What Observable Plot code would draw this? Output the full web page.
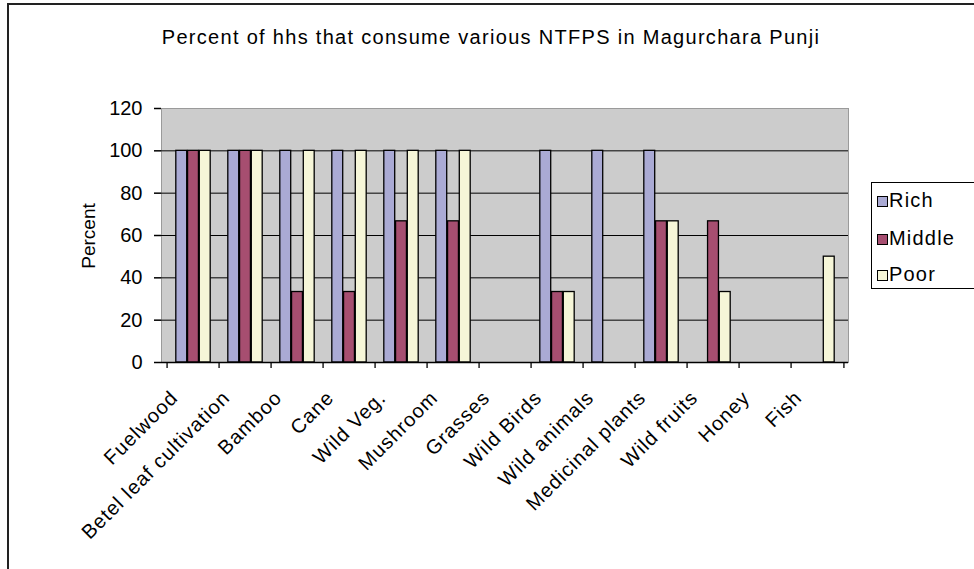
<!DOCTYPE html>
<html><head><meta charset="utf-8">
<script src="https://cdn.jsdelivr.net/npm/d3@7"></script>
<script src="https://cdn.jsdelivr.net/npm/@observablehq/plot@0.6"></script>
<style>
body{margin:0;background:#fff;font-family:"Liberation Sans",Arial,sans-serif;}
#wrap{position:relative;width:974px;height:569px;overflow:hidden;background:#fff}
#border{position:absolute;left:7px;top:3px;width:1000px;height:600px;border:2px solid #222;box-sizing:border-box}
#title{position:absolute;left:4px;width:974px;top:25px;text-align:center;font-size:20px;line-height:24px;letter-spacing:1.3px;white-space:nowrap}
#ylab{position:absolute;left:89px;top:236px;transform:translate(-50%,-50%) rotate(-90deg);font-size:19px;white-space:nowrap}
#legend{position:absolute;left:871px;top:182px;width:120px;height:107px;border:1px solid #000;box-sizing:border-box;background:#fff}
.item{position:absolute;left:5px;height:22px;font-size:20px;line-height:22px;white-space:nowrap;letter-spacing:1.2px}
.sw{display:inline-block;width:9px;height:9px;border:1px solid #000;margin-right:1px;vertical-align:0px}
#chart{position:absolute;left:0;top:0}
g[aria-label="x-axis tick label"] text{letter-spacing:1px}
</style></head>
<body>
<div id="wrap">
<div id="chart"></div>
<div id="border"></div>
<div id="title"></div>
<div id="ylab"></div>
<div id="legend"></div>
</div>
<script>
const title = "Percent of hhs that consume various NTFPS in Magurchara Punji";
const yLabel = "Percent";
const categories = ["Fuelwood","Betel leaf cultivation","Bamboo","Cane","Wild Veg.","Mushroom","Grasses","Wild Birds","Wild animals","Medicinal plants","Wild fruits","Honey","Fish"];
const seriesNames = ["Rich","Middle","Poor"];
const rich   = [100,100,100,100,100,100,0,100,100,100,0,0,0];
const middle = [100,100,33.3,33.3,66.7,66.7,0,33.3,0,66.7,66.7,0,0];
const poor   = [100,100,100,100,100,100,0,33.3,0,66.7,33.3,0,50];
const yTicks = [0,20,40,60,80,100,120];
const colors = ["#aaaad4","#a64e70","#f6f6d8"];

document.getElementById("title").textContent = title;
document.getElementById("ylab").textContent = yLabel;
const leg = document.getElementById("legend");
const legTops = [6,44,80];
seriesNames.forEach((n,i)=>{
  const d=document.createElement("div"); d.className="item"; d.style.top=legTops[i]+"px";
  d.innerHTML=`<span class="sw" style="background:${colors[i]}"></span>${n}`;
  leg.appendChild(d);
});

const W=974,H=569,mL=161,mR=126,mT=108,mB=207;
const bw=(W-mL-mR)/categories.length, w=bw/4.5;
const vals=[rich,middle,poor];
const barMarks = vals.map((arr,i)=>Plot.barY(
  categories.map((c,j)=>({cat:c,v:arr[j]})).filter(d=>d.v>0),
  {x:"cat",y:"v",fill:colors[i],stroke:"#000",strokeWidth:1.3,
   insetLeft: bw/2+(i-1.5)*w, insetRight: bw/2-(i-0.5)*w}));

const chart = Plot.plot({
  width:W,height:H,marginLeft:mL,marginRight:mR,marginTop:mT,marginBottom:mB,
  style:{fontFamily:"Liberation Sans, Arial, sans-serif",fontSize:"20px",color:"#000",background:"transparent",overflow:"visible"},
  x:{domain:categories,padding:0,label:null},
  y:{domain:[0,120],label:null},
  marks:[
    Plot.frame({fill:"#cccccc",stroke:"#9a9a9a"}),
    Plot.ruleY(yTicks.filter(t=>t>0&&t<120),{stroke:"#000",strokeWidth:1}),
    ...barMarks,
    Plot.ruleY([0],{stroke:"#000",strokeWidth:1.5}),
    Plot.axisY({ticks:yTicks,tickSize:7,tickPadding:12,line:true,strokeWidth:1.5,fontSize:20,label:null}),
    Plot.axisX({tickSize:0,tickRotate:-45,tickPadding:14,fontSize:20,dx:-19,dy:18,label:null}),
    Plot.ruleX(categories,{x:d=>d,y1:0,y2:0,insetBottom:-6,dx:-bw/2,stroke:"#000",strokeWidth:1.3}),
    Plot.ruleX(categories.slice(-1),{x:d=>d,y1:0,y2:0,insetBottom:-6,dx:bw/2,stroke:"#000",strokeWidth:1.3})
  ]
});
document.getElementById("chart").appendChild(chart);
</script>
</body></html>
